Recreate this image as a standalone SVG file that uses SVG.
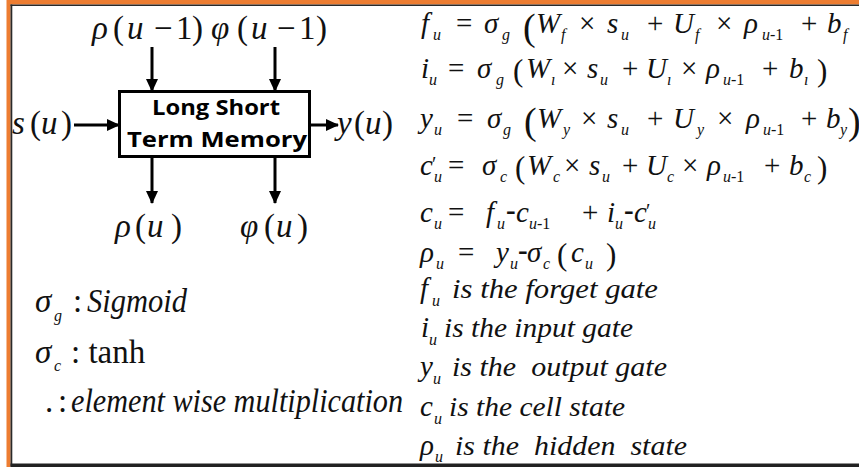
<svg xmlns="http://www.w3.org/2000/svg" width="859" height="467" viewBox="0 0 859 467">
<defs>
<style>
.m{font-family:"Liberation Serif","Times New Roman",serif;fill:#111}
.i{font-style:italic}
.lab{font-size:33px}
.eq{font-size:29px}
.sub{font-size:16px;font-style:italic}
.subr{font-size:16px;font-style:normal}
.bigp{font-size:38px;font-style:normal}
.p{font-size:31px;font-style:normal}
.dot{font-weight:bold;font-style:normal}
.pr{font-size:20px;font-style:normal}
.desc{font-size:27px;font-style:italic;white-space:pre}
.box{fill:#fff;stroke:#000;stroke-width:3}
.bt{font-family:"Open Sans","Liberation Sans",sans-serif;font-weight:bold;font-size:21px;fill:#000}
.conn{stroke:#000;stroke-width:3;fill:none}
</style>
<marker id="ah" markerUnits="userSpaceOnUse" markerWidth="14" markerHeight="14" refX="12" refY="7" orient="auto">
<path d="M0,1 L13,7 L0,13 Z" fill="#000"/>
</marker>
</defs>
<rect x="0" y="0" width="859" height="467" fill="#fff"/>
<g id="frame">
<rect x="7" y="0" width="852" height="4.5" fill="#ED7D31"/>
<rect x="6.5" y="0" width="4" height="467" fill="#ED7D31"/>
<rect x="10.5" y="4.5" width="1.8" height="462" fill="#2a2a2a"/>
<rect x="10.5" y="4.5" width="848.5" height="1.5" fill="#2a2a2a"/>
<rect x="10.5" y="463.5" width="848.5" height="3.5" fill="#222"/>
</g>

<g id="connectors">
<line class="conn" x1="152" y1="47" x2="152" y2="91" marker-end="url(#ah)"/>
<line class="conn" x1="275" y1="47" x2="275" y2="91" marker-end="url(#ah)"/>
<line class="conn" x1="152" y1="157" x2="152" y2="203" marker-end="url(#ah)"/>
<line class="conn" x1="275" y1="157" x2="275" y2="203" marker-end="url(#ah)"/>
<line class="conn" x1="74" y1="125" x2="119" y2="125" marker-end="url(#ah)"/>
<line class="conn" x1="310" y1="125" x2="338" y2="125" marker-end="url(#ah)"/>
</g>

<g id="lstm">
<rect class="box" x="119.5" y="91.5" width="190" height="65"/>
<text class="bt" x="152" y="115" textLength="128" lengthAdjust="spacingAndGlyphs">Long Short</text>
<text class="bt" x="127" y="147" textLength="180" lengthAdjust="spacingAndGlyphs">Term Memory</text>
</g>

<g id="in-rho">
<text class="m lab" y="39"><tspan x="92" class="i">ρ</tspan><tspan x="113">(</tspan><tspan x="127" class="i">u</tspan><tspan x="154">−</tspan><tspan x="176">1</tspan><tspan x="192">)</tspan></text>
</g>
<g id="in-phi">
<text class="m lab" y="39"><tspan x="211" class="i">φ</tspan><tspan x="237">(</tspan><tspan x="251" class="i">u</tspan><tspan x="277">−</tspan><tspan x="299">1</tspan><tspan x="316">)</tspan></text>
</g>
<g id="in-s">
<text class="m lab" y="134"><tspan x="12" class="i">s</tspan><tspan x="30">(</tspan><tspan x="41" class="i">u</tspan><tspan x="61">)</tspan></text>
</g>
<g id="out-y">
<text class="m lab" y="134"><tspan x="337" class="i">y</tspan><tspan x="354">(</tspan><tspan x="365" class="i">u</tspan><tspan x="382">)</tspan></text>
</g>
<g id="out-rho">
<text class="m lab" y="237"><tspan x="115" class="i">ρ</tspan><tspan x="135">(</tspan><tspan x="147" class="i">u</tspan><tspan x="171">)</tspan></text>
</g>
<g id="out-phi">
<text class="m lab" y="237"><tspan x="240" class="i">φ</tspan><tspan x="264">(</tspan><tspan x="276" class="i">u</tspan><tspan x="297">)</tspan></text>
</g>

<g id="legend">
<text class="m lab" y="312"><tspan x="35" class="i">σ</tspan><tspan x="54" y="321" class="sub">g</tspan><tspan x="73" y="312">:</tspan><tspan x="87" class="i" textLength="100" lengthAdjust="spacingAndGlyphs">Sigmoid</tspan></text>
<text class="m lab" y="363"><tspan x="35" class="i">σ</tspan><tspan x="54" y="371" class="sub">c</tspan><tspan x="71" y="363">: tanh</tspan></text>
<text class="m lab" y="412"><tspan x="45">.</tspan><tspan x="58">:</tspan><tspan x="71" class="i" textLength="332" lengthAdjust="spacingAndGlyphs">element wise multiplication</tspan></text>
</g>

<g id="equations">
<text class="m eq" y="33"><tspan x="421" class="i">f</tspan><tspan x="433" y="40" class="sub">u</tspan><tspan x="456" y="33">=</tspan><tspan x="484" class="i">σ</tspan><tspan x="502" y="40" class="sub">g</tspan><tspan x="523" y="40" class="bigp">(</tspan><tspan x="536" y="33" class="i">W</tspan><tspan x="561" y="40" class="sub">f</tspan><tspan x="579" y="33">×</tspan><tspan x="607" class="i">s</tspan><tspan x="621" y="40" class="sub">u</tspan><tspan x="647" y="33">+</tspan><tspan x="673" class="i">U</tspan><tspan x="695" y="40" class="sub">f</tspan><tspan x="716" y="33">×</tspan><tspan x="744" class="i">ρ</tspan><tspan x="762" y="40" class="sub">u</tspan><tspan class="subr">-1</tspan><tspan x="801" y="33">+</tspan><tspan x="827" class="i">b</tspan><tspan x="843" y="40" class="sub">f</tspan></text>

<text class="m eq" y="78"><tspan x="421" class="i">i</tspan><tspan x="429" y="85" class="sub">u</tspan><tspan x="448" y="78">=</tspan><tspan x="477" class="i">σ</tspan><tspan x="496" y="85" class="sub">g</tspan><tspan x="513" y="81" class="p">(</tspan><tspan x="526" y="78" class="i">W</tspan><tspan x="551" y="85" class="sub">ı</tspan><tspan x="562" y="78">×</tspan><tspan x="587" class="i">s</tspan><tspan x="600" y="85" class="sub">u</tspan><tspan x="622" y="78">+</tspan><tspan x="646" class="i">U</tspan><tspan x="667" y="85" class="sub">ı</tspan><tspan x="681" y="78">×</tspan><tspan x="706" class="i">ρ</tspan><tspan x="723" y="85" class="sub">u</tspan><tspan class="subr">-1</tspan><tspan x="762" y="78">+</tspan><tspan x="789" class="i">b</tspan><tspan x="804" y="85" class="sub">ı</tspan><tspan x="817" y="81" class="p">)</tspan></text>

<text class="m eq" y="128"><tspan x="420" class="i">y</tspan><tspan x="434" y="135" class="sub">u</tspan><tspan x="457" y="128">=</tspan><tspan x="487" class="i">σ</tspan><tspan x="503" y="135" class="sub">g</tspan><tspan x="524" y="134" class="bigp">(</tspan><tspan x="537" y="128" class="i">W</tspan><tspan x="563" y="135" class="sub">y</tspan><tspan x="581" y="128">×</tspan><tspan x="607" class="i">s</tspan><tspan x="621" y="135" class="sub">u</tspan><tspan x="647" y="128">+</tspan><tspan x="673" class="i">U</tspan><tspan x="697" y="135" class="sub">y</tspan><tspan x="717" y="128">×</tspan><tspan x="746" class="i">ρ</tspan><tspan x="763" y="135" class="sub">u</tspan><tspan class="subr">-1</tspan><tspan x="801" y="128">+</tspan><tspan x="826" class="i">b</tspan><tspan x="840" y="135" class="sub">y</tspan><tspan x="848" y="134" class="bigp">)</tspan></text>

<text class="m eq" y="175"><tspan x="420" class="i">c</tspan><tspan x="432" y="171" class="pr">′</tspan><tspan x="434" y="182" class="sub">u</tspan><tspan x="448" y="175">=</tspan><tspan x="482" class="i">σ</tspan><tspan x="500" y="182" class="sub">c</tspan><tspan x="515" y="178" class="p">(</tspan><tspan x="527" y="175" class="i">W</tspan><tspan x="553" y="182" class="sub">c</tspan><tspan x="564" y="175">×</tspan><tspan x="589" class="i">s</tspan><tspan x="602" y="182" class="sub">u</tspan><tspan x="622" y="175">+</tspan><tspan x="646" class="i">U</tspan><tspan x="667" y="182" class="sub">c</tspan><tspan x="682" y="175">×</tspan><tspan x="707" class="i">ρ</tspan><tspan x="723" y="182" class="sub">u</tspan><tspan class="subr">-1</tspan><tspan x="764" y="175">+</tspan><tspan x="789" class="i">b</tspan><tspan x="804" y="182" class="sub">c</tspan><tspan x="817" y="178" class="p">)</tspan></text>

<text class="m eq" y="222"><tspan x="420" class="i">c</tspan><tspan x="434" y="229" class="sub">u</tspan><tspan x="448" y="222">=</tspan><tspan x="486" class="i">f</tspan><tspan x="497" y="229" class="sub">u</tspan><tspan x="506" y="220" class="dot">-</tspan><tspan x="516" y="222" class="i">c</tspan><tspan x="529" y="229" class="sub">u</tspan><tspan class="subr">-1</tspan><tspan x="582" y="222">+</tspan><tspan x="607" class="i">i</tspan><tspan x="615" y="229" class="sub">u</tspan><tspan x="624" y="220" class="dot">-</tspan><tspan x="634" y="222" class="i">c</tspan><tspan x="646" y="218" class="pr">′</tspan><tspan x="648" y="229" class="sub">u</tspan></text>

<text class="m eq" y="262"><tspan x="420" class="i">ρ</tspan><tspan x="436" y="269" class="sub">u</tspan><tspan x="458" y="262">=</tspan><tspan x="496" class="i">y</tspan><tspan x="510" y="269" class="sub">u</tspan><tspan x="518" y="260" class="dot">-</tspan><tspan x="527" y="262" class="i">σ</tspan><tspan x="543" y="269" class="sub">c</tspan><tspan x="557" y="265" class="p">(</tspan><tspan x="571" y="262" class="i">c</tspan><tspan x="585" y="269" class="sub">u</tspan><tspan x="606" y="265" class="p">)</tspan></text>
</g>

<g id="definitions">
<text class="m eq" y="298"><tspan x="420" class="i">f</tspan><tspan x="432" y="306" class="sub">u</tspan></text>
<text class="m desc" x="452" y="298" textLength="206" lengthAdjust="spacingAndGlyphs">is the forget gate</text>
<text class="m eq" y="337"><tspan x="421" class="i">i</tspan><tspan x="429" y="345" class="sub">u</tspan></text>
<text class="m desc" x="444" y="337" textLength="189" lengthAdjust="spacingAndGlyphs">is the input gate</text>
<text class="m eq" y="376"><tspan x="420" class="i">y</tspan><tspan x="433" y="384" class="sub">u</tspan></text>
<text class="m desc" x="452" y="376" textLength="215" lengthAdjust="spacingAndGlyphs">is the  output gate</text>
<text class="m eq" y="416"><tspan x="420" class="i">c</tspan><tspan x="434" y="424" class="sub">u</tspan></text>
<text class="m desc" x="449" y="416" textLength="176" lengthAdjust="spacingAndGlyphs">is the cell state</text>
<text class="m eq" y="455"><tspan x="420" class="i">ρ</tspan><tspan x="435" y="462" class="sub">u</tspan></text>
<text class="m desc" x="455" y="455" textLength="232" lengthAdjust="spacingAndGlyphs">is the  hidden  state</text>
</g>
</svg>
